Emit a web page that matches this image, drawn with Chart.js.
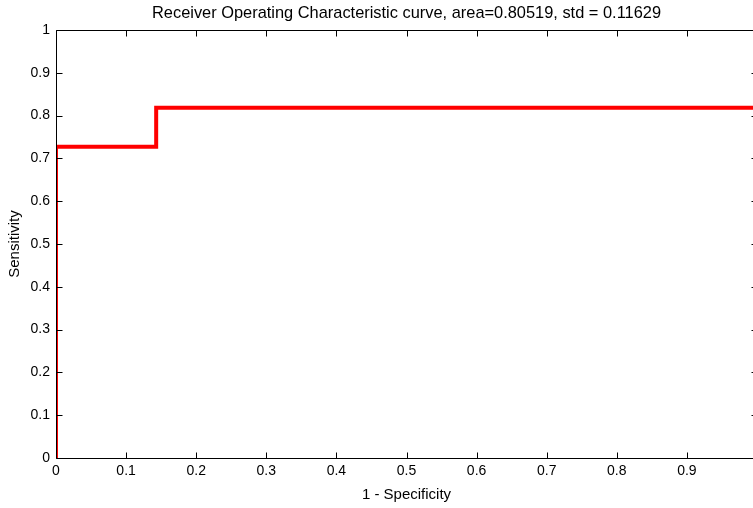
<!DOCTYPE html>
<html>
<head>
<meta charset="utf-8">
<script src="https://cdn.jsdelivr.net/npm/chart.js@4"></script>
<style>
  html, body { margin: 0; padding: 0; background: #fff; overflow: hidden; }
  #wrap { width: 753px; height: 508px; overflow: hidden; }
</style>
</head>
<body>
<div id="wrap"><canvas id="rocChart" width="770" height="508"></canvas></div>
<script>
// ROC curve points (false positive rate vs true positive rate)
const fpr = [0, 0, 0.1429, 0.1429, 1];
const tpr = [0, 0.7273, 0.7273, 0.8182, 0.8182];
const xTickLabels = ['0', '0.1', '0.2', '0.3', '0.4', '0.5', '0.6', '0.7', '0.8', '0.9', '1'];
const yTickLabels = ['0', '0.1', '0.2', '0.3', '0.4', '0.5', '0.6', '0.7', '0.8', '0.9', '1'];
const titleText = 'Receiver Operating Characteristic curve, area=0.80519, std = 0.11629';

const FONT = "'Liberation Sans', Arial, Helvetica, sans-serif";

// matlab style box: full border plus inward tick marks on all sides
const boxAxes = {
  id: 'boxAxes',
  afterDatasetsDraw(chart) {
    const ctx = chart.ctx;
    const a = chart.chartArea;
    const xs = chart.scales.x, ys = chart.scales.y;
    const L = Math.round(a.left) + 0.5, R = Math.round(a.right) + 0.5;
    const T = Math.round(a.top) + 0.5, B = Math.round(a.bottom) + 0.5;
    const len = 6;
    ctx.save();
    ctx.strokeStyle = '#000';
    ctx.lineWidth = 1;
    ctx.beginPath();
    ctx.rect(L, T, R - L, B - T);
    xs.ticks.forEach(t => {
      const px = Math.round(xs.getPixelForValue(t.value)) + 0.5;
      ctx.moveTo(px, B); ctx.lineTo(px, B - len);
      ctx.moveTo(px, T); ctx.lineTo(px, T + len);
    });
    ys.ticks.forEach(t => {
      const py = Math.round(ys.getPixelForValue(t.value)) + 0.5;
      ctx.moveTo(L, py); ctx.lineTo(L + len, py);
      ctx.moveTo(R, py); ctx.lineTo(R - len, py);
    });
    ctx.stroke();
    ctx.restore();
  }
};

const ctxRoc = document.getElementById('rocChart').getContext('2d');
const rocChart = new Chart(ctxRoc, {
  type: 'scatter',
  data: {
    datasets: [{
      label: 'ROC',
      data: fpr.map((x, i) => ({ x: x, y: tpr[i] })),
      showLine: true,
      borderColor: '#ff0000',
      backgroundColor: '#ff0000',
      borderWidth: 4,
      borderJoinStyle: 'miter',
      pointRadius: 0,
      tension: 0
    }]
  },
  options: {
    responsive: false,
    animation: false,
    devicePixelRatio: 1,
    layout: { padding: { left: 0, right: 13, top: 0, bottom: 0 } },
    plugins: {
      legend: { display: false },
      tooltip: { enabled: false },
      title: {
        display: true,
        fullSize: false,
        text: titleText,
        color: '#000',
        font: { family: FONT, size: 16.4, weight: 'normal', lineHeight: 1.2 },
        padding: { top: 4, bottom: 6.3 }
      }
    },
    scales: {
      x: {
        type: 'linear',
        min: 0,
        max: 1,
        grid: { display: false, drawTicks: false },
        border: { display: false },
        ticks: {
          stepSize: 0.1,
          maxRotation: 0,
          autoSkip: false,
          padding: 5,
          color: '#000',
          font: { family: FONT, size: 14 },
          callback: (v, i) => xTickLabels[i]
        },
        title: {
          display: true,
          text: '1 - Specificity',
          color: '#000',
          font: { family: FONT, size: 15 },
          padding: { top: 0, bottom: 4 }
        },
        afterFit: s => { s.height = 50; }
      },
      y: {
        type: 'linear',
        min: 0,
        max: 1,
        grid: { display: false, drawTicks: false },
        border: { display: false },
        ticks: {
          stepSize: 0.1,
          autoSkip: false,
          padding: 6,
          color: '#000',
          font: { family: FONT, size: 14 },
          callback: (v, i) => yTickLabels[i]
        },
        title: {
          display: true,
          text: 'Sensitivity',
          color: '#000',
          font: { family: FONT, size: 15 },
          padding: { top: 6, bottom: 0 }
        },
        afterFit: s => { s.width = 56; }
      }
    }
  },
  plugins: [boxAxes]
});
</script>
</body>
</html>
